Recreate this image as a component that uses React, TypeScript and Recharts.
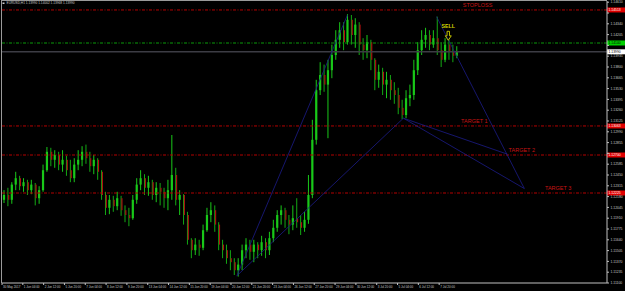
import { ComposedChart, Bar, XAxis, YAxis, ReferenceLine, ReferenceDot } from 'recharts';

// EURUSD H1, grouped in blocks of 6 hourly bars
const OPEN = [
  1.1214, 1.1220, 1.1214, 1.1233, 1.1241, 1.1231, 1.1236, 1.1226, 1.1233, 1.1216,
  1.1226, 1.1251, 1.1274, 1.1264, 1.1270, 1.1258, 1.1264, 1.1251, 1.1241, 1.1258,
  1.1264, 1.1274, 1.1266, 1.1256, 1.1264, 1.1249, 1.1220, 1.1204, 1.1214, 1.1206,
  1.1216, 1.1201, 1.1195, 1.1191, 1.1214, 1.1233, 1.1241, 1.1229, 1.1236, 1.1220,
  1.1229, 1.1224, 1.1216, 1.1226, 1.1245, 1.1214, 1.1220, 1.1195, 1.1164, 1.1151,
  1.1158, 1.1154, 1.1176, 1.1195, 1.1201, 1.1183, 1.1158, 1.1151, 1.1141, 1.1136,
  1.1126, 1.1133, 1.1151, 1.1158, 1.1149, 1.1158, 1.1151, 1.1161, 1.1151, 1.1166,
  1.1179, 1.1195, 1.1201, 1.1189, 1.1183, 1.1191, 1.1186, 1.1179, 1.1189, 1.1220,
  1.1289, 1.1351, 1.1370, 1.1358, 1.1376, 1.1395, 1.1414, 1.1426, 1.1411, 1.1439,
  1.1420, 1.1433, 1.1408, 1.1401, 1.1411, 1.1389, 1.1364, 1.1374, 1.1358, 1.1364,
  1.1351, 1.1345, 1.1329, 1.1320, 1.1341, 1.1345, 1.1376, 1.1401, 1.1414, 1.1420,
  1.1408, 1.1416, 1.1401, 1.1389, 1.1408, 1.1399, 1.1394,
];
const HIGH = [
  1.1226, 1.1229, 1.1236, 1.1249, 1.1244, 1.1241, 1.1239, 1.1239, 1.1235, 1.1231,
  1.1258, 1.1280, 1.1279, 1.1276, 1.1274, 1.1276, 1.1269, 1.1264, 1.1266, 1.1276,
  1.1281, 1.1283, 1.1274, 1.1270, 1.1266, 1.1251, 1.1224, 1.1220, 1.1219, 1.1224,
  1.1219, 1.1207, 1.1204, 1.1220, 1.1241, 1.1251, 1.1246, 1.1244, 1.1239, 1.1236,
  1.1235, 1.1229, 1.1239, 1.1295, 1.1254, 1.1226, 1.1221, 1.1199, 1.1166, 1.1166,
  1.1164, 1.1183, 1.1204, 1.1211, 1.1207, 1.1186, 1.1164, 1.1158, 1.1151, 1.1141,
  1.1141, 1.1158, 1.1166, 1.1164, 1.1164, 1.1161, 1.1169, 1.1166, 1.1174, 1.1189,
  1.1201, 1.1207, 1.1204, 1.1195, 1.1207, 1.1216, 1.1195, 1.1199, 1.1245, 1.1314,
  1.1364, 1.1386, 1.1383, 1.1389, 1.1408, 1.1426, 1.1436, 1.1436, 1.1446, 1.1445,
  1.1441, 1.1436, 1.1416, 1.1420, 1.1414, 1.1391, 1.1383, 1.1379, 1.1374, 1.1370,
  1.1361, 1.1354, 1.1339, 1.1351, 1.1358, 1.1389, 1.1411, 1.1426, 1.1429, 1.1426,
  1.1426, 1.1443, 1.1411, 1.1416, 1.1414, 1.1408, 1.1406,
];
const LOW = [
  1.1210, 1.1206, 1.1209, 1.1226, 1.1226, 1.1224, 1.1220, 1.1221, 1.1207, 1.1209,
  1.1224, 1.1249, 1.1256, 1.1254, 1.1251, 1.1249, 1.1244, 1.1236, 1.1236, 1.1251,
  1.1256, 1.1259, 1.1249, 1.1246, 1.1239, 1.1214, 1.1195, 1.1196, 1.1199, 1.1201,
  1.1194, 1.1186, 1.1181, 1.1189, 1.1209, 1.1226, 1.1220, 1.1219, 1.1214, 1.1211,
  1.1207, 1.1204, 1.1201, 1.1214, 1.1207, 1.1195, 1.1183, 1.1158, 1.1141, 1.1145,
  1.1144, 1.1151, 1.1174, 1.1186, 1.1174, 1.1151, 1.1141, 1.1134, 1.1126, 1.1120,
  1.1118, 1.1126, 1.1141, 1.1139, 1.1136, 1.1141, 1.1144, 1.1141, 1.1145, 1.1161,
  1.1174, 1.1183, 1.1179, 1.1171, 1.1176, 1.1179, 1.1170, 1.1174, 1.1184, 1.1216,
  1.1283, 1.1345, 1.1349, 1.1291, 1.1366, 1.1389, 1.1404, 1.1401, 1.1408, 1.1408,
  1.1404, 1.1395, 1.1389, 1.1391, 1.1376, 1.1351, 1.1354, 1.1345, 1.1341, 1.1339,
  1.1334, 1.1321, 1.1315, 1.1316, 1.1331, 1.1339, 1.1370, 1.1395, 1.1404, 1.1401,
  1.1404, 1.1395, 1.1380, 1.1386, 1.1389, 1.1386, 1.1391,
];
const CLOSE = [
  1.1220, 1.1214, 1.1233, 1.1241, 1.1231, 1.1236, 1.1226, 1.1233, 1.1216, 1.1226,
  1.1251, 1.1274, 1.1264, 1.1270, 1.1258, 1.1264, 1.1251, 1.1241, 1.1258, 1.1264,
  1.1274, 1.1266, 1.1256, 1.1264, 1.1249, 1.1220, 1.1204, 1.1214, 1.1206, 1.1216,
  1.1201, 1.1195, 1.1191, 1.1214, 1.1233, 1.1241, 1.1229, 1.1236, 1.1220, 1.1229,
  1.1224, 1.1216, 1.1226, 1.1245, 1.1214, 1.1220, 1.1195, 1.1164, 1.1151, 1.1158,
  1.1154, 1.1176, 1.1195, 1.1201, 1.1183, 1.1158, 1.1151, 1.1141, 1.1136, 1.1126,
  1.1133, 1.1151, 1.1158, 1.1149, 1.1158, 1.1151, 1.1161, 1.1151, 1.1166, 1.1179,
  1.1195, 1.1201, 1.1189, 1.1183, 1.1191, 1.1186, 1.1179, 1.1189, 1.1220, 1.1289,
  1.1351, 1.1370, 1.1358, 1.1376, 1.1395, 1.1414, 1.1426, 1.1411, 1.1439, 1.1420,
  1.1433, 1.1408, 1.1401, 1.1411, 1.1389, 1.1364, 1.1374, 1.1358, 1.1364, 1.1351,
  1.1345, 1.1329, 1.1320, 1.1341, 1.1345, 1.1376, 1.1401, 1.1414, 1.1420, 1.1408,
  1.1416, 1.1401, 1.1389, 1.1408, 1.1399, 1.1394, 1.1399,
];

const BARS_PER_CANDLE = 6;
const VISIBLE_BARS = 930; // hourly bars across the window (rest is empty space on the right)

const TIME_LABELS = [
  '30 May 2017', '1 Jun 04:00', '2 Jun 12:00', '5 Jun 20:00', '7 Jun 04:00', '8 Jun 12:00',
  '9 Jun 20:00', '13 Jun 04:00', '14 Jun 12:00', '15 Jun 20:00', '19 Jun 04:00', '20 Jun 12:00',
  '21 Jun 20:00', '23 Jun 04:00', '26 Jun 12:00', '27 Jun 20:00', '29 Jun 04:00', '30 Jun 12:00',
  '3 Jul 20:00', '5 Jul 04:00', '6 Jul 12:00', '7 Jul 20:00',
];
const TIME_STEP = 32;

const PRICE_TICKS = [
  1.111, 1.11235, 1.1137, 1.11505, 1.1164, 1.11775, 1.1191, 1.12045, 1.1218,
  1.12315, 1.1245, 1.12585, 1.1272, 1.12855, 1.1299, 1.13125, 1.1326, 1.13395,
  1.1353, 1.13665, 1.138, 1.13935, 1.1407, 1.14205, 1.1434, 1.14475, 1.1461,
];
const PRICE_MIN = 1.111;
const PRICE_MAX = 1.14625;

const STOP_LEVEL = 1.14513;
const TARGET_LEVELS = [1.13063, 1.127, 1.12225];
const ENTRY_LEVEL = 1.141;
const BID = 1.1399;

const LEVEL_NAMES = ['STOPLOSS', 'TARGET 1', 'TARGET 2', 'TARGET 3'];
const LEVEL_NAME_BARS = [731, 726, 799, 855];
const SELL_POINT = { bar: 686, price: 1.14313 };
const ARROW_POINT = { bar: 686, price: 1.1419 };

const PIVOTS = {
  A: { bar: 361, price: 1.1119 },
  B: { bar: 531, price: 1.1445 },
  C: { bar: 617, price: 1.1316 },
  D: { bar: 668, price: 1.1443 },
  E: { bar: 777, price: 1.1271 },
  F: { bar: 803, price: 1.1228 },
};
const TREND_SEGMENTS: [keyof typeof PIVOTS, keyof typeof PIVOTS][] = [
  ['A', 'B'], ['A', 'C'], ['C', 'E'], ['C', 'F'], ['D', 'F'],
];

const slots = Math.round(VISIBLE_BARS / BARS_PER_CANDLE);
const candles = Array.from({ length: slots }, (_, k) => {
  const t = k * BARS_PER_CANDLE + BARS_PER_CANDLE / 2;
  return k < OPEN.length
    ? { k, t, open: OPEN[k], high: HIGH[k], low: LOW[k], close: CLOSE[k], range: [LOW[k], HIGH[k]] }
    : { k, t, range: null };
});
const timeTicks = TIME_LABELS.map((_, i) => i * TIME_STEP);
const allLevels = [STOP_LEVEL, ...TARGET_LEVELS];
const taggedLevels = [...allLevels, ENTRY_LEVEL, BID];

const UP = '#19c819';
const WICK = '#14a814';
const DOWN = '#b41010';
const RED = '#b40000';
const RED_TEXT = '#c81414';
const FONT = 'Liberation Sans, Arial, sans-serif';

const Candle = (props: any) => {
  const { x, y, width, height, payload } = props;
  if (!payload || payload.open == null) return null;
  const top = height < 0 ? y + height : y;
  const h = Math.abs(height);
  const span = payload.high - payload.low || 1e-9;
  const yOf = (v: number) => top + ((payload.high - v) / span) * h;
  const up = payload.close >= payload.open;
  const cx = x + width / 2;
  const bw = up ? Math.max(1, width * 0.55) : 1.1;
  const b1 = yOf(Math.max(payload.open, payload.close));
  const b2 = yOf(Math.min(payload.open, payload.close));
  return (
    <g>
      <line x1={cx} x2={cx} y1={top} y2={top + h} stroke={up ? UP : WICK} strokeWidth={1} />
      <rect
        x={up ? cx - bw / 2 : cx + 0.3}
        y={b1}
        width={bw}
        height={Math.max(0.8, b2 - b1)}
        fill={up ? UP : DOWN}
      />
    </g>
  );
};

const PriceTick = ({ x, y, payload }: any) => {
  const v = Number(payload.value);
  if (taggedLevels.some((l) => Math.abs(l - v) < 0.0004)) return null;
  return (
    <text x={x + 1.5} y={y + 1.2} fill="#c8c8c8" fontSize={3.4} fontFamily={FONT}>
      {v.toFixed(5)}
    </text>
  );
};

const TimeTick = ({ x, y, payload }: any) => (
  <text x={x + 1} y={y + 3.2} fill="#c8c8c8" fontSize={3} fontFamily={FONT}>
    {TIME_LABELS[Math.round(payload.value / TIME_STEP)]}
  </text>
);

const Tag = ({ viewBox, price, bg, fg }: any) => {
  if (!viewBox) return null;
  const left = viewBox.x + viewBox.width;
  return (
    <g>
      <rect x={left} y={viewBox.y - 2.5} width={18} height={5} fill={bg} />
      <text x={left + 1.5} y={viewBox.y + 1.3} fill={fg} fontSize={3.4} fontFamily={FONT}>
        {price.toFixed(5)}
      </text>
    </g>
  );
};

const LevelText = ({ cx, cy, text }: any) => (
  <text x={cx} y={cy - 3.2} textAnchor="middle" fill={RED_TEXT} fontSize={5.5} fontFamily={FONT}>
    {text}
  </text>
);

const SellText = ({ cx, cy }: any) => (
  <text x={cx} y={cy + 2} textAnchor="middle" fill="#d2d200" fontSize={5.3} fontFamily={FONT} fontWeight="bold">
    SELL
  </text>
);

const Arrow = ({ cx, cy }: any) => (
  <path
    d={`M${cx - 1.2},${cy - 4.5} L${cx + 1.2},${cy - 4.5} L${cx + 1.2},${cy} L${cx + 3},${cy} L${cx},${cy + 4.5} L${cx - 3},${cy} L${cx - 1.2},${cy} Z`}
    fill="none"
    stroke="#d2d200"
    strokeWidth={0.9}
  />
);

const dashDot = '3 1.5 1 1.5';

export default function App() {
  return (
    <div style={{ position: 'fixed', left: 0, top: 0, width: 625, height: 291, background: '#000' }}>
      <ComposedChart
        width={625}
        height={291}
        data={candles}
        margin={{ top: 1, right: 0, bottom: 0, left: 2 }}
        barCategoryGap={0}
      >
        <XAxis
          xAxisId="t"
          dataKey="t"
          type="number"
          domain={[0, VISIBLE_BARS]}
          ticks={timeTicks}
          interval={0}
          allowDataOverflow
          height={8}
          tickSize={2}
          tickMargin={0}
          axisLine={{ stroke: '#c0c0c0' }}
          tickLine={{ stroke: '#c0c0c0' }}
          tick={<TimeTick />}
        />
        <XAxis xAxisId="c" dataKey="k" type="category" hide height={0} />
        <YAxis
          orientation="right"
          type="number"
          width={18}
          domain={[PRICE_MIN, PRICE_MAX]}
          allowDataOverflow
          ticks={PRICE_TICKS}
          interval={0}
          tickSize={2}
          tickMargin={0}
          axisLine={{ stroke: '#c0c0c0' }}
          tickLine={{ stroke: '#c0c0c0' }}
          tick={<PriceTick />}
        />

        {allLevels.map((p) => (
          <ReferenceLine
            key={p}
            xAxisId="t"
            y={p}
            stroke={RED}
            strokeDasharray={dashDot}
            label={<Tag price={p} bg="#e00000" fg="#ffffff" />}
          />
        ))}
        <ReferenceLine
          xAxisId="t"
          y={ENTRY_LEVEL}
          stroke="#0a9a0a"
          strokeDasharray={dashDot}
          label={<Tag price={ENTRY_LEVEL} bg="#00d000" fg="#000000" />}
        />
        <ReferenceLine
          xAxisId="t"
          y={BID}
          stroke="#3c3c44"
          strokeWidth={1.6}
          label={<Tag price={BID} bg="#ffffff" fg="#000000" />}
        />

        <Bar xAxisId="c" dataKey="range" shape={<Candle />} isAnimationActive={false} />

        {TREND_SEGMENTS.map(([a, b]) => (
          <ReferenceLine
            key={a + b}
            xAxisId="t"
            segment={[
              { x: PIVOTS[a].bar, y: PIVOTS[a].price },
              { x: PIVOTS[b].bar, y: PIVOTS[b].price },
            ]}
            stroke="#1c1c88"
            strokeWidth={0.8}
            ifOverflow="visible"
          />
        ))}

        {allLevels.map((p, i) => (
          <ReferenceDot
            key={'n' + i}
            xAxisId="t"
            x={LEVEL_NAME_BARS[i]}
            y={p}
            r={0}
            ifOverflow="visible"
            shape={(props: any) => <LevelText {...props} text={LEVEL_NAMES[i]} />}
          />
        ))}
        <ReferenceDot xAxisId="t" x={SELL_POINT.bar} y={SELL_POINT.price} r={0} ifOverflow="visible" shape={(p: any) => <SellText {...p} />} />
        <ReferenceDot xAxisId="t" x={ARROW_POINT.bar} y={ARROW_POINT.price} r={0} ifOverflow="visible" shape={(p: any) => <Arrow {...p} />} />
      </ComposedChart>
      <svg width={625} height={291} style={{ position: 'absolute', left: 0, top: 0, pointerEvents: 'none' }}>
        <line x1={1} y1={0.5} x2={607} y2={0.5} stroke="#9a9a9a" strokeWidth={1} />
        <line x1={1.5} y1={0} x2={1.5} y2={283} stroke="#9a9a9a" strokeWidth={1} />
        <rect x={2.5} y={2.6} width={2} height={1.2} fill="#ffffff" />
        <text x={6.5} y={4.4} fill="#c8c8c8" fontSize={3.2} fontFamily={FONT}>
          EURUSD,H1  1.13990 1.14002 1.13968 1.13990
        </text>
      </svg>
    </div>
  );
}
